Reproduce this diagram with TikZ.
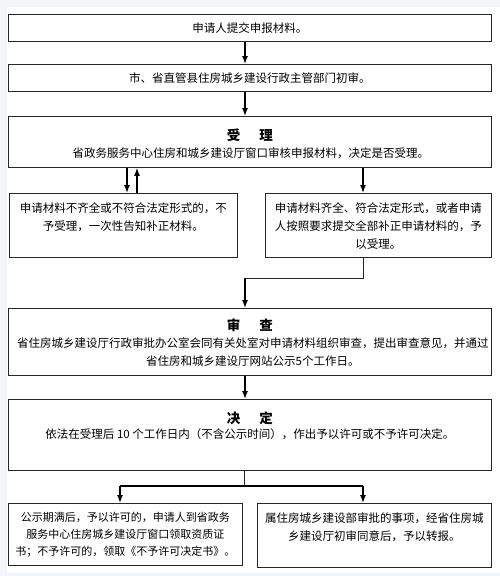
\documentclass[tikz,border=0pt]{standalone}
\usepackage{fontspec}
\setmainfont{Noto Sans CJK SC}
\usepackage{xcolor}
\usetikzlibrary{calc, positioning, arrows.meta}

\definecolor{pagebg}{HTML}{F2F6FA}

\tikzset{
  box/.style={draw=black!85, line width=0.8pt, inner sep=0pt, anchor=north west},
  txt/.style={font=\fontsize{11.5}{18}\selectfont, align=center, inner sep=0pt},
  head/.style={font=\fontsize{13.5}{16}\selectfont\bfseries, inner sep=0pt},
  flow/.style={->, line width=1.4pt},
  link/.style={line width=0.8pt, black!85},
}

\begin{document}
\begin{tikzpicture}[>={Latex[length=8pt,width=6pt]}, x=1pt, y=-1pt]
    % 1. Nền trang
    \useasboundingbox (0,0) rectangle (500,576);
    \fill[pagebg] (0,0) rectangle (500,576);
    \fill[white] (7,7) rectangle (500,573);

    % 2. Các khung
    \node[box, minimum width=483pt, minimum height=27pt] (b1) at (8,14) {};
    \node[box, minimum width=483pt, minimum height=27pt] (b2) at (8,64) {};
    \node[box, minimum width=483pt, minimum height=51pt] (b3) at (8,116) {};
    \node[box, minimum width=228pt, minimum height=64pt] (b4l) at (9,193) {};
    \node[box, minimum width=226pt, minimum height=64pt] (b4r) at (265,193) {};
    \node[box, minimum width=483pt, minimum height=67pt] (b5) at (8,308) {};
    \node[box, minimum width=483pt, minimum height=71pt] (b6) at (8,399) {};
    \node[box, minimum width=234pt, minimum height=62pt] (b7l) at (8,503) {};
    \node[box, minimum width=234pt, minimum height=64pt] (b7r) at (257,503) {};

    % 3. Chữ trong khung
    \node[txt] (t1) at (b1.center) {申请人提交申报材料。};
    \node[txt] (t2) at (b2.center) {市、省直管县住房城乡建设行政主管部门初审。};
    \node[head] (h3) at ($(b3.north)+(0,19)$) {受\hspace{1.4em}理};
    \node[txt] (t3) at ($(b3.north)+(1,37)$) {省政务服务中心住房和城乡建设厅窗口审核申报材料，决定是否受理。};
    \node[txt] (t4l) at ($(b4l.north)+(0,24)$) {申请材料不齐全或不符合法定形式的，不\\予受理，一次性告知补正材料。};
    \node[txt] (t4r) at ($(b4r.north)+(0,33)$) {申请材料齐全、符合法定形式，或者申请\\人按照要求提交全部补正申请材料的，予\\以受理。};
    \node[head] (h5) at ($(b5.north)+(0,17)$) {审\hspace{1.4em}查};
    \node[txt] (t5) at ($(b5.north)+(3,44.5)$) {省住房城乡建设厅行政审批办公室会同有关处室对申请材料组织审查，提出审查意见，并通过\\省住房和城乡建设厅网站公示5个工作日。};
    \node[head] (h6) at ($(b6.north)+(0,19)$) {决\hspace{1.4em}定};
    \node[txt] (t6) at ($(b6.north)+(0,35)$) {依法在受理后 10 个工作日内（不含公示时间），作出予以许可或不予许可决定。};
    \node[txt, font=\fontsize{11}{17}\selectfont] (t7l) at ($(b7l.north)+(0,32)$) {公示期满后，予以许可的，申请人到省政务\\服务中心住房城乡建设厅窗口领取资质证\\书；不予许可的，领取《不予许可决定书》。};
    \node[txt] (t7r) at ($(b7r.north)+(0,24)$) {属住房城乡建设部审批的事项，经省住房城\\乡建设厅初审同意后，予以转报。};

    % 4. Mũi tên
    \coordinate (cx) at (245,0);
    \coordinate (lx1) at (127,0);
    \coordinate (lx2) at (137,0);
    \coordinate (lx3) at (120,0);
    \coordinate (rx) at (363,0);
    \draw[flow] (b1.south -| cx) -- (b2.north -| cx);
    \draw[flow] (b2.south -| cx) -- (b3.north -| cx);
    \draw[flow] (b3.south -| lx1) -- (b4l.north -| lx1);
    \draw[flow] (b4l.north -| lx2) -- (b3.south -| lx2);
    \draw[flow] (b3.south -| rx) -- (b4r.north -| rx);

    \coordinate (j1) at (363,278);
    \draw[link] (b4r.south -| rx) -- (j1) -- (j1 -| cx);
    \draw[flow] (j1 -| cx) -- (b5.north -| cx);
    \draw[flow] (b5.south -| cx) -- (b6.north -| cx);

    \coordinate (j2) at (244,486);
    \draw[link] (b6.south -| j2) -- (j2);
    \draw[line width=1.4pt] (j2 -| lx3) -- (j2 -| rx);
    \draw[flow] (j2 -| lx3) -- (b7l.north -| lx3);
    \draw[flow] (j2 -| rx) -- (b7r.north -| rx);
\end{tikzpicture}
\end{document}
